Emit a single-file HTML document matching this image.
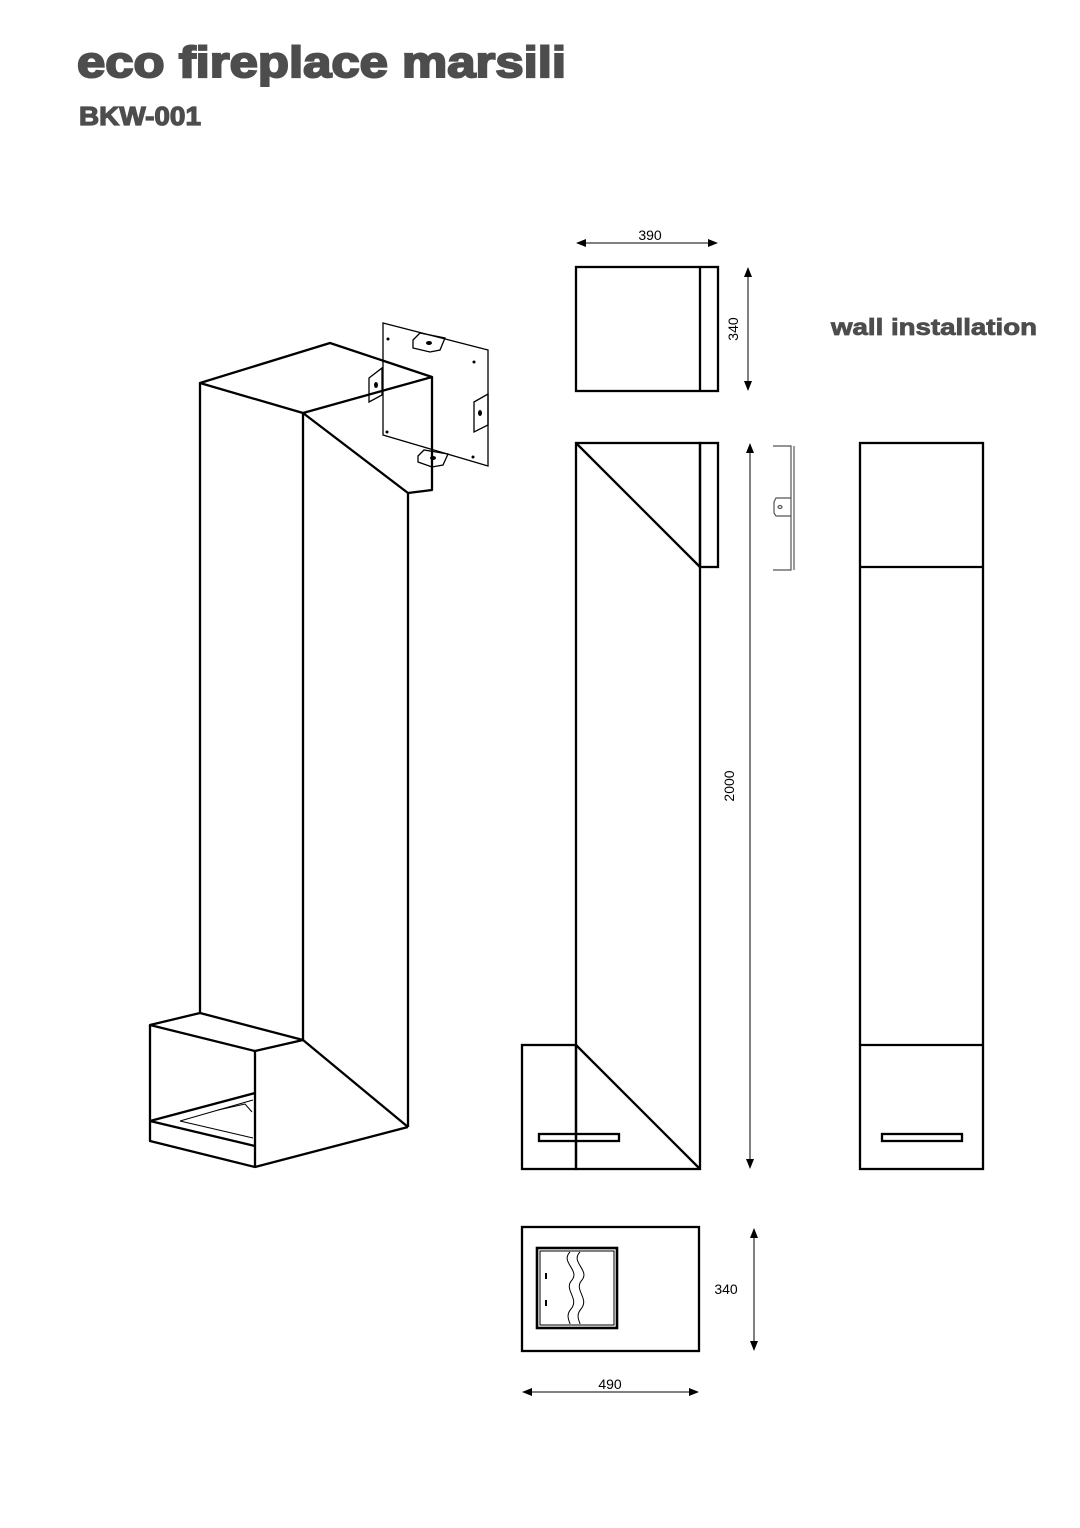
<!DOCTYPE html>
<html><head><meta charset="utf-8"><style>
html,body{margin:0;padding:0;background:#fff;}
svg{display:block;}
</style></head><body>
<svg width="1080" height="1528" viewBox="0 0 1080 1528" xmlns="http://www.w3.org/2000/svg">
<defs>
<marker id="ah" markerWidth="10" markerHeight="8" refX="9" refY="4" orient="auto-start-reverse" markerUnits="userSpaceOnUse">
<path d="M0,0 L10,4 L0,8 Z" fill="#000"/>
</marker>
</defs>
<g font-family="Liberation Sans, Arial, sans-serif" font-weight="bold" fill="#4d4d4d" stroke="#4d4d4d">
<text x="77" y="77" font-size="44" stroke-width="2" textLength="489" lengthAdjust="spacingAndGlyphs">eco fireplace marsili</text>
<text x="79" y="125" font-size="26" stroke-width="1.2" textLength="122" lengthAdjust="spacingAndGlyphs">BKW-001</text>
<text x="831" y="335" font-size="23" stroke-width="0.8" textLength="206" lengthAdjust="spacingAndGlyphs">wall installation</text>
</g>

<!-- mounting plate -->
<g stroke="#000" stroke-width="1.3" fill="none">
<path d="M383,323 L488,350 L488,466 L383,435 Z"/>
<path d="M413,340 L420,333 L445,338 L440,350 L430,352 L413,348 Z"/>
<path d="M418,456 L424,450 L448,454 L443,465 L432,467 L418,462 Z"/>
<path d="M369,378 L382,368 L382,395 L369,402 Z"/>
<path d="M474,402 L488,394 L488,425 L474,432 Z"/>
</g>
<g fill="#000">
<ellipse cx="429" cy="343" rx="3" ry="2"/><ellipse cx="433" cy="458" rx="3" ry="2"/>
<ellipse cx="376" cy="385" rx="2" ry="3"/><ellipse cx="480" cy="413" rx="2" ry="3"/>
<circle cx="388" cy="339" r="1.5"/><circle cx="474" cy="362" r="1.5"/>
<circle cx="387" cy="432" r="1.5"/><circle cx="473" cy="457" r="1.5"/>
</g>

<!-- isometric body -->
<g stroke="#000" stroke-width="2.3" fill="none" stroke-linejoin="round">
<path d="M200,383 L330,343 L432,377 L303,413 Z"/>
<path d="M200,383 L200,1013"/>
<path d="M303,413 L303,1040"/>
<path d="M432,377 L432,490 L408,493 L408,1127"/>
<path d="M303,413 L408,493"/>
<path d="M150,1025 L200,1013 L303,1040 L255,1051 Z"/>
<path d="M150,1025 L150,1141 L255,1167 L408,1127"/>
<path d="M255,1051 L255,1167"/>
<path d="M303,1040 L408,1127"/>
<path d="M150,1121 L255,1146"/>
<path d="M150,1121 L255,1093"/>
</g>
<g stroke="#000" stroke-width="1" fill="none">
<path d="M180,1121 L253,1100 M180,1121 L253,1138"/>
<path d="M218,1110 L245,1104 L252,1112"/>
</g>

<!-- front view -->
<g stroke="#000" stroke-width="2.3" fill="none">
<rect x="576" y="267" width="142" height="124"/>
<path d="M700,267 L700,391"/>
<rect x="576" y="443" width="124" height="726"/>
<rect x="700" y="443" width="18" height="124"/>
<path d="M576,443 L700,567"/>
<rect x="522" y="1045" width="54" height="124"/>
<path d="M576,1045 L700,1169"/>
<rect x="539" y="1134" width="80" height="7"/>
</g>

<!-- bracket -->
<g stroke="#555" stroke-width="1.2" fill="none">
<path d="M773,446 L791,446 L791,570 L773,570"/>
<path d="M794,446 L794,570"/>
<path d="M791,498 L776,498 L774,502 L774,513 L776,516 L791,516"/>
<ellipse cx="780" cy="507" rx="2" ry="1.5"/>
</g>

<!-- side view -->
<g stroke="#000" stroke-width="2.3" fill="none">
<rect x="860" y="443" width="123" height="726"/>
<path d="M860,567 L983,567 M860,1045 L983,1045"/>
<rect x="882" y="1134" width="80" height="7"/>
</g>

<!-- plan view -->
<g stroke="#000" fill="none">
<rect x="522" y="1227" width="177" height="124" stroke-width="2.3"/>
<rect x="537" y="1248" width="80" height="80" stroke-width="2.6"/>
<rect x="540" y="1251" width="74" height="74" stroke-width="1"/>
<path d="M570,1252 C560,1262 580,1270 572,1280 C563,1290 580,1298 571,1309 C565,1316 570,1322 570,1324" stroke-width="1"/>
<path d="M580,1252 C570,1262 590,1270 582,1280 C573,1290 590,1298 581,1309 C575,1316 580,1322 580,1324" stroke-width="1"/>
</g>
<g fill="#000"><rect x="545" y="1273" width="2" height="6"/><rect x="545" y="1300" width="2" height="6"/></g>

<!-- dimensions -->
<g stroke="#000" stroke-width="1" fill="none">
<line x1="577" y1="243" x2="717" y2="243" marker-start="url(#ah)" marker-end="url(#ah)"/>
<line x1="748" y1="268" x2="748" y2="390" marker-start="url(#ah)" marker-end="url(#ah)"/>
<line x1="750" y1="444" x2="750" y2="1168" marker-start="url(#ah)" marker-end="url(#ah)"/>
<line x1="754" y1="1229" x2="754" y2="1350" marker-start="url(#ah)" marker-end="url(#ah)"/>
<line x1="523" y1="1392" x2="698" y2="1392" marker-start="url(#ah)" marker-end="url(#ah)"/>
</g>
<g font-family="Liberation Sans, Arial, sans-serif" font-size="14" fill="#000">
<text x="650" y="240" text-anchor="middle">390</text>
<text x="738" y="329" text-anchor="middle" transform="rotate(-90 738 329)">340</text>
<text x="734" y="786" text-anchor="middle" transform="rotate(-90 734 786)">2000</text>
<text x="726" y="1294" text-anchor="middle">340</text>
<text x="610" y="1389" text-anchor="middle">490</text>
</g>
</svg>
</body></html>
